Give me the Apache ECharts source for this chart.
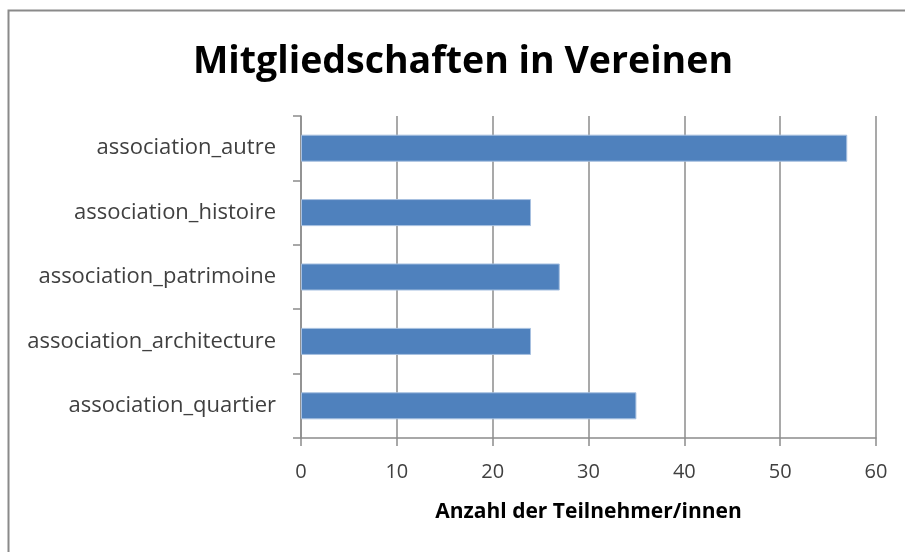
<!DOCTYPE html>
<html>
<head>
<meta charset="utf-8">
<script src="https://cdn.jsdelivr.net/npm/echarts@6/dist/echarts.min.js"></script>
<style>
  html, body { margin: 0; padding: 0; background: #fff; }
  #chart { width: 905px; height: 552px; }
</style>
</head>
<body>
<div id="chart"></div>
<script>
const categories = ['association_quartier', 'association_architecture', 'association_patrimoine', 'association_histoire', 'association_autre'];
const counts = [35, 24, 27, 24, 57];
const xTicks = [0, 10, 20, 30, 40, 50, 60];

const chart = echarts.init(document.getElementById('chart'));

const option = {
    backgroundColor: '#fff',
    animation: false,
    textStyle: { fontFamily: 'Open Sans' },
    title: {
        text: 'Mitgliedschaften in Vereinen',
        left: 188,
        top: 38,
        textStyle: { fontSize: 37.5, fontWeight: 'bold', color: '#000', fontFamily: 'Open Sans' }
    },
    graphic: [
        {
            type: 'rect',
            shape: { x: 8.5, y: 10.5, width: 1000, height: 1000 },
            style: { fill: 'none', stroke: '#8a8a8a', lineWidth: 2 },
            silent: true
        }
    ],
    grid: { left: 301, right: 29, top: 116, bottom: 114 },
    xAxis: {
        type: 'value',
        min: xTicks[0],
        max: xTicks[xTicks.length - 1],
        interval: 10,
        name: 'Anzahl der Teilnehmer/innen',
        nameLocation: 'middle',
        nameGap: 64,
        nameTextStyle: { fontSize: 21, fontWeight: 'bold', color: '#000' },
        axisLine: { show: true, lineStyle: { color: '#8c8c8c', width: 1.5 } },
        axisTick: { show: true, length: 8, lineStyle: { color: '#8c8c8c', width: 1.5 } },
        axisLabel: { fontSize: 20, color: '#404040', margin: 24 },
        splitLine: { show: true, lineStyle: { color: '#8c8c8c', width: 1.5 } }
    },
    yAxis: {
        type: 'category',
        data: categories,
        axisLine: { show: true, lineStyle: { color: '#8c8c8c', width: 1.5 } },
        axisTick: { show: true, length: 8, inside: false, lineStyle: { color: '#8c8c8c', width: 1.5 } },
        axisLabel: { fontSize: 22, color: '#404040', margin: 25 }
    },
    series: [
        {
            type: 'bar',
            data: counts,
            barCategoryGap: '58%',
            itemStyle: { color: '#4f81bd', borderColor: '#a7c0e0', borderWidth: 1 }
        }
    ]
};

chart.setOption(option);
</script>
</body>
</html>
